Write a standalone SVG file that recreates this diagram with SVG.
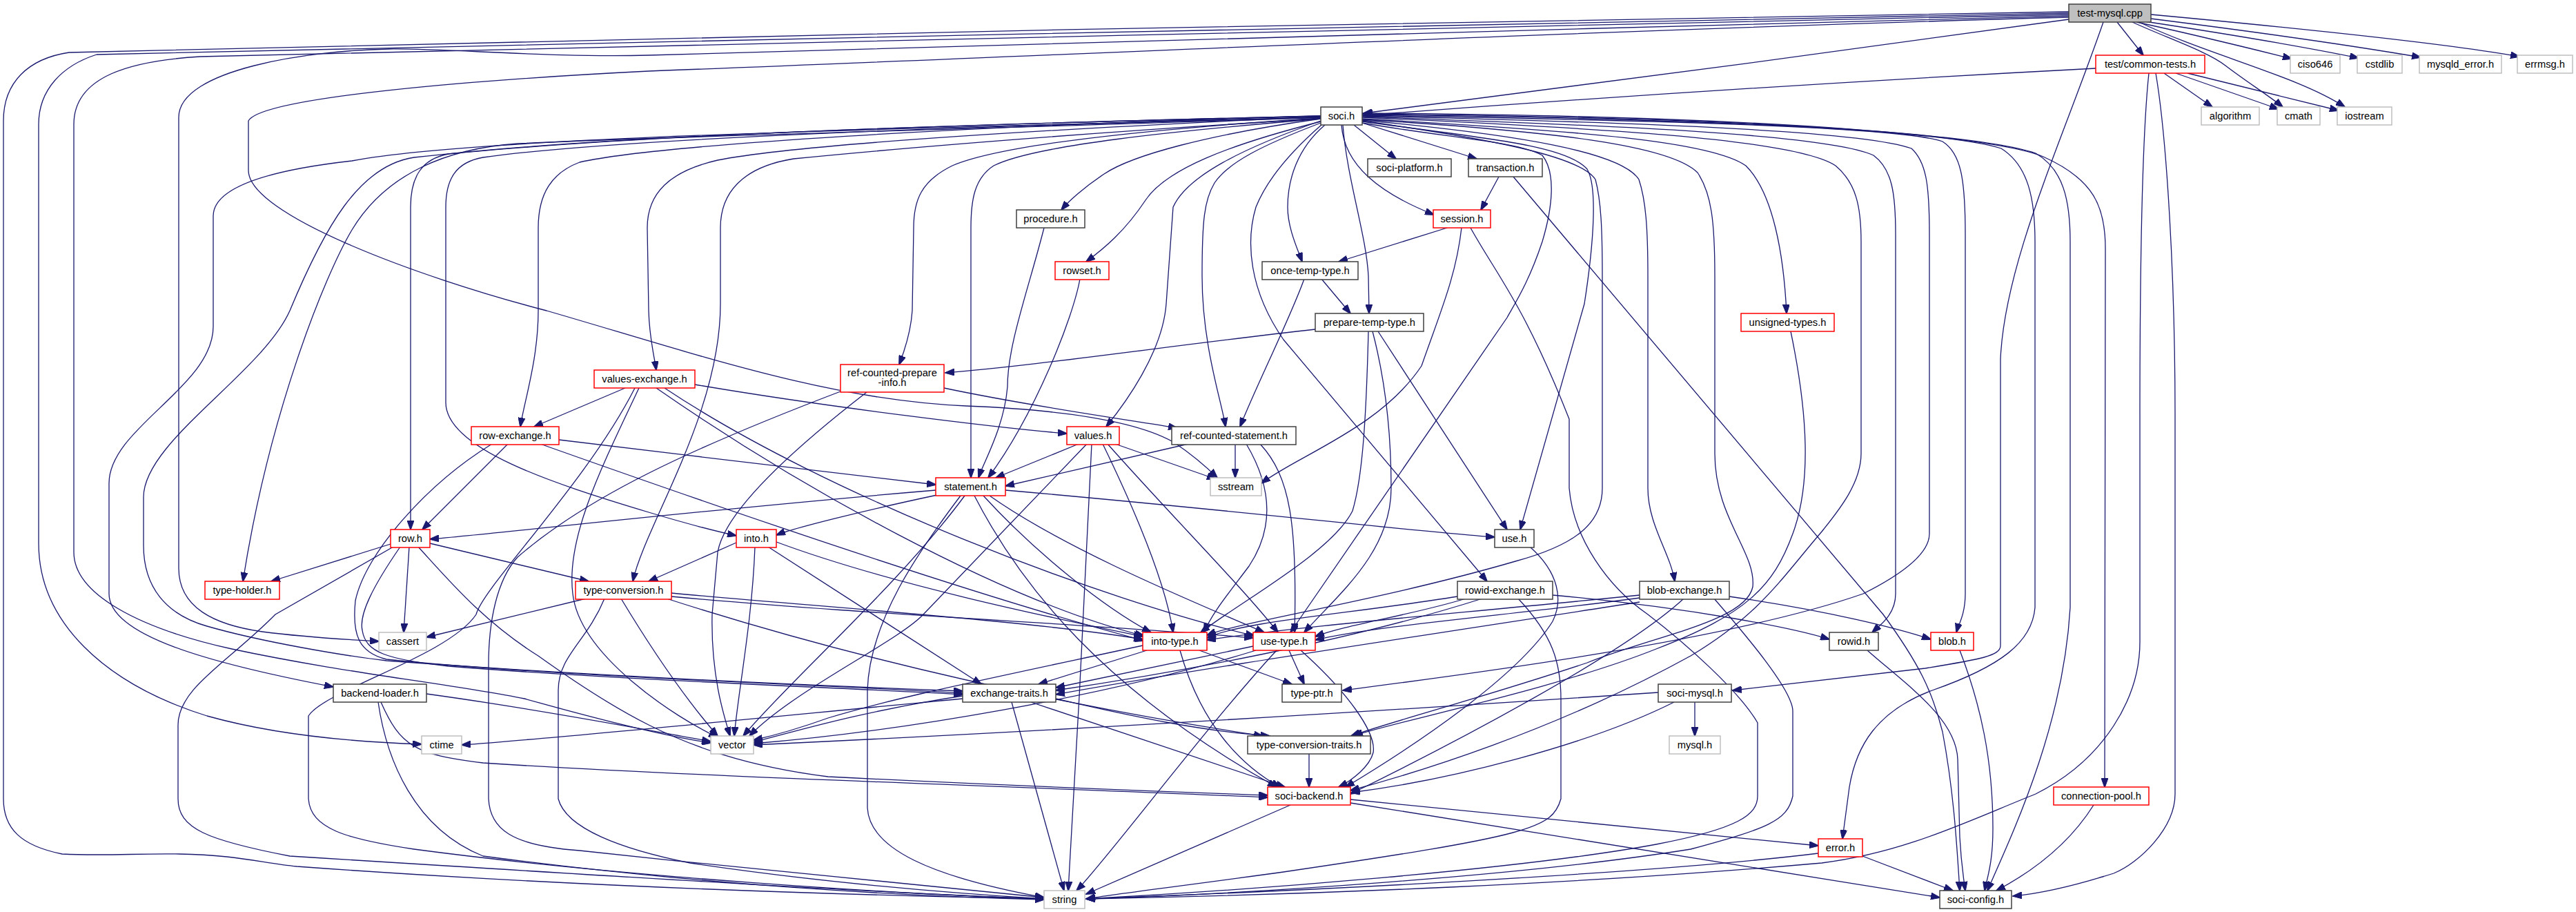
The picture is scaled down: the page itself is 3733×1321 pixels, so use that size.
<svg xmlns="http://www.w3.org/2000/svg" width="3733" height="1321" viewBox="0 0 3733 1321">
<defs>
<marker id="a" viewBox="0 0 14 10" refX="13" refY="5" markerWidth="14" markerHeight="10" markerUnits="userSpaceOnUse" orient="auto">
<path d="M0,0 L14,5 L0,10 z" fill="#191970" stroke="#191970" stroke-width="1"/>
</marker>
<style>
rect{stroke-width:1.5}
.k rect{fill:#fff;stroke:#404040}
.r rect{fill:#fff;stroke:#ff0000}
.g rect{fill:#fff;stroke:#bfbfbf}
.root rect{fill:#bfbfbf;stroke:#404040}
text{font-family:"Liberation Sans",Arial,Helvetica,sans-serif;font-size:14.7px;text-anchor:middle;fill:#000}
#edges path{fill:none;stroke:#191970;stroke-width:1.3;marker-end:url(#a)}
</style>
</defs>
<rect width="3733" height="1321" fill="#fff"/>
<g id="edges">
<path d="M2998,28 C2700,70 2250,130 1976,164"/>
<path d="M3068,32 L3106,80"/>
<path d="M3096,32 C3180,50 3260,70 3321,85"/>
<path d="M3108,31 C3220,48 3340,68 3418,84"/>
<path d="M3117,27 C3260,45 3420,68 3508,83"/>
<path d="M3117,21 C3300,38 3540,62 3651,82"/>
<path d="M3090,32 C3140,55 3200,75 3225,95 C3255,118 3290,140 3308,155"/>
<path d="M3100,32 C3200,80 3330,110 3398,155"/>
<path d="M2998,17 C2200,28 900,55 100,76 C40,85 5,120 5,175 L5,1157 C5,1200 30,1225 90,1237 C150,1240 200,1236 260,1237 C340,1238 380,1250 430,1255 C800,1282 1200,1296 1513,1302"/>
<path d="M2998,19 C2200,32 1000,60 140,79 C90,95 56,130 56,180 L56,787 C56,900 150,990 300,1037 C400,1065 520,1075 611,1078"/>
<path d="M2998,21 C2200,36 1100,65 290,82 C190,88 107,110 107,180 L107,800 C107,860 200,910 336,940 C500,975 650,990 760,1012 C860,1040 960,1066 1030,1076"/>
<path d="M2998,23 C2300,40 1400,68 940,80 C800,84 650,70 564,71 C450,73 259,100 259,170 L259,823 C259,880 310,905 380,915 C450,924 500,926 549,929"/>
<path d="M2998,25 C2300,44 1500,82 940,103 C700,115 380,140 360,175 L360,247 C360,310 600,400 792,450 C1000,510 1200,580 1400,588 C1550,594 1650,612 1700,640 C1730,660 1752,680 1764,692"/>
<path d="M3048,32 C2990,200 2905,380 2899,520 L2899,935 C2899,950 2870,955 2790,968 L2511,1000"/>
<path d="M3037,99 C2600,122 2200,150 1976,167"/>
<path d="M3136,106 L3206,155"/>
<path d="M3153,106 L3302,158"/>
<path d="M3170,106 L3389,160"/>
<path d="M3114,106 C3104,200 3101,400 3101,600 L3101,930 C3101,1010 3050,1100 2950,1150 C2850,1190 2760,1235 2640,1250 C2300,1280 1900,1296 1574,1302"/>
<path d="M3124,106 C3140,200 3152,400 3152,600 L3152,1150 C3152,1200 3100,1250 3063,1265 C3000,1285 2950,1295 2917,1298"/>
<path d="M1962,181 L2023,230"/>
<path d="M1974,178 L2140,230"/>
<path d="M1944,181 C1948,240 2000,280 2078,311"/>
<path d="M1920,181 C1880,215 1866,260 1866,300 C1866,330 1880,360 1887,379"/>
<path d="M1946,181 C1952,260 1980,340 1983,400 L1984,454"/>
<path d="M1914,172 C1750,195 1640,225 1600,252 C1570,272 1548,292 1538,304"/>
<path d="M1914,176 C1780,210 1690,245 1660,290 C1630,335 1600,360 1574,379"/>
<path d="M1914,169 C1500,188 1150,210 1040,232 C970,248 938,280 938,330 L940,450 C941,490 948,515 951,536"/>
<path d="M1914,171 C1650,188 1450,210 1380,240 C1335,262 1324,290 1324,330 L1322,450 C1320,480 1310,510 1303,528"/>
<path d="M1914,168 C1400,182 950,210 840,235 C800,250 780,280 780,330 L780,450 C780,520 760,580 754,618"/>
<path d="M1914,175 C1800,215 1720,255 1700,300 L1690,440 C1685,510 1630,585 1603,618"/>
<path d="M1914,178 C1830,210 1780,235 1760,265 C1745,290 1742,320 1742,400 C1742,500 1770,580 1776,618"/>
<path d="M1914,172 C1700,190 1500,210 1440,240 C1412,258 1407,290 1407,330 L1407,692"/>
<path d="M1914,168 C1400,180 900,196 650,223 C612,230 595,255 595,300 L595,767"/>
<path d="M1914,170 C1400,183 900,200 700,228 C660,235 646,260 646,300 L646,583 C646,650 800,700 940,742 C1000,760 1040,770 1067,776"/>
<path d="M1914,170 C1500,185 1000,196 750,208 C650,215 560,250 510,333 C470,400 390,600 352,842"/>
<path d="M1914,172 C1600,190 1300,215 1150,230 C1075,242 1044,280 1044,330 L1044,440 C1044,600 935,760 917,842"/>
<path d="M1914,170 C1400,185 700,196 510,233 C430,242 309,262 309,313 L309,473 C309,560 158,620 158,700 L158,860 C158,920 300,960 483,995"/>
<path d="M1914,168 C1400,180 900,195 600,228 C520,240 470,330 420,450 C380,540 208,640 208,720 L208,790 C208,850 240,890 300,907 C380,930 500,950 560,957 C800,975 1100,990 1395,1001"/>
<path d="M1916,180 C1870,220 1836,260 1820,300 C1805,350 1810,420 1860,492 L2155,842"/>
<path d="M1974,174 C2200,195 2350,220 2375,260 C2385,290 2388,330 2388,400 L2388,707 C2388,760 2420,800 2427,842"/>
<path d="M1974,178 C2100,200 2200,205 2235,225 C2255,250 2250,300 2235,350 C2215,410 2195,440 2184,460 L1870,916"/>
<path d="M1974,175 C2150,200 2290,225 2312,260 C2320,290 2322,330 2322,400 L2322,707 C2322,760 2280,790 2196,813 C2000,870 1800,900 1749,920"/>
<path d="M1974,176 C2150,200 2270,210 2300,245 C2315,270 2310,350 2296,440 L2203,767"/>
<path d="M1974,172 C2300,190 2480,205 2530,240 C2570,280 2585,370 2589,454"/>
<path d="M1974,173 C2250,190 2420,210 2460,250 C2480,280 2485,320 2485,400 L2485,657 C2485,750 2545,800 2540,850 C2530,900 2400,920 2300,960 C2150,1010 2000,1050 1958,1066"/>
<path d="M1974,170 C2300,185 2600,200 2660,240 C2690,265 2697,300 2697,350 L2697,657 C2697,700 2664,740 2640,770 C2580,840 2550,890 2450,950 C2250,1060 2050,1120 1957,1145"/>
<path d="M1974,169 C2350,182 2650,195 2715,225 C2742,245 2747,280 2747,340 L2747,860 C2747,890 2725,905 2713,916"/>
<path d="M1974,168 C2400,178 2700,190 2770,215 C2792,235 2796,270 2796,340 L2796,773 C2796,800 2760,830 2700,860 C2500,930 2100,980 1946,1000"/>
<path d="M1974,167 C2450,175 2760,185 2815,205 C2842,222 2848,260 2848,340 L2848,860 C2848,890 2838,905 2835,916"/>
<path d="M1974,166 C2500,172 2820,190 2900,215 C2940,240 2949,290 2949,350 L2949,880 C2945,930 2900,965 2800,1000 C2720,1030 2690,1080 2680,1140 L2670,1215"/>
<path d="M1974,165 C2550,170 2870,195 2950,222 C2990,245 3000,290 3000,350 L3000,880 C2990,1050 2920,1200 2880,1290"/>
<path d="M1974,164 C2600,168 2900,200 2961,227 C3035,260 3051,300 3051,360 L3050,1140"/>
<path d="M2172,256 L2146,304"/>
<path d="M2193,256 L2729,890 C2780,960 2800,1000 2815,1060 C2832,1150 2836,1230 2840,1290"/>
<path d="M2097,330 L1940,379"/>
<path d="M2118,330 C2110,400 2088,450 2060,530 C2000,620 1880,660 1828,700"/>
<path d="M2131,330 C2170,400 2208,440 2274,607 L2274,707 C2280,780 2330,850 2388,890 C2440,930 2520,1000 2547,1047 L2547,1153 C2547,1180 2520,1200 2400,1223 C2200,1260 1800,1290 1574,1302"/>
<path d="M1513,330 C1490,420 1460,500 1460,560 C1455,620 1425,670 1418,692"/>
<path d="M1565,404 C1555,460 1500,600 1432,692"/>
<path d="M1915,404 L1957,454"/>
<path d="M1890,404 C1870,460 1820,560 1797,618"/>
<path d="M1906,477 C1700,500 1500,530 1370,540"/>
<path d="M1983,480 C1980,600 1975,690 1960,740 C1930,800 1800,870 1740,916"/>
<path d="M1989,480 C2010,560 2016,640 2016,707 C2016,800 1940,860 1890,916"/>
<path d="M1997,480 L2184,767"/>
<path d="M2595,480 C2620,600 2625,700 2598,773 C2570,850 2530,890 2400,940 C2250,1000 2000,1050 1962,1066"/>
<path d="M906,562 L774,618"/>
<path d="M1007,557 C1200,590 1450,620 1546,628"/>
<path d="M951,562 C1150,700 1450,870 1658,921"/>
<path d="M963,562 C1200,720 1600,870 1818,921"/>
<path d="M926,562 C870,680 820,780 830,860 C840,950 980,1040 1040,1068"/>
<path d="M920,562 C850,700 700,850 690,890 C650,950 470,1000 447,1037 L447,1157 C450,1200 500,1215 600,1230 C900,1270 1300,1295 1513,1302"/>
<path d="M1368,562 C1500,590 1650,610 1706,620"/>
<path d="M1256,568 C1150,650 1050,740 1040,800 L1032,890 C1030,980 1050,1040 1058,1066"/>
<path d="M1218,567 C1000,650 850,720 750,807 C720,840 708,900 708,963 L708,1157 C710,1200 740,1225 840,1232 C1100,1260 1400,1290 1513,1300"/>
<path d="M736,643 L612,767"/>
<path d="M810,637 C1000,660 1250,690 1356,702"/>
<path d="M783,643 C1000,720 1400,860 1658,928"/>
<path d="M713,643 C620,700 530,800 515,870 C510,920 520,945 560,955 C800,980 1200,992 1395,1004"/>
<path d="M1563,643 L1443,692"/>
<path d="M1616,643 L1762,694"/>
<path d="M1575,643 L1338,890 C1300,930 1150,1000 1086,1066"/>
<path d="M1582,643 C1575,800 1560,1100 1548,1290"/>
<path d="M1598,643 C1650,750 1690,850 1700,916"/>
<path d="M1605,643 C1700,750 1800,850 1852,916"/>
<path d="M1722,643 L1457,704"/>
<path d="M1790,643 L1790,692"/>
<path d="M1806,643 C1840,700 1850,760 1810,820 C1780,860 1755,890 1745,916"/>
<path d="M1826,643 C1870,690 1880,760 1876,916"/>
<path d="M1356,710 C1000,740 750,770 623,781"/>
<path d="M1358,717 C1250,740 1150,765 1125,775"/>
<path d="M1457,710 C1800,740 2050,770 2166,778"/>
<path d="M1425,718 C1500,800 1600,880 1668,916"/>
<path d="M1434,718 C1550,800 1750,880 1832,916"/>
<path d="M1412,718 C1480,850 1600,1000 1850,1140"/>
<path d="M1398,718 C1300,850 1150,980 1077,1066"/>
<path d="M1392,718 C1330,800 1260,900 1257,1000 L1257,1170 C1260,1230 1350,1270 1513,1300"/>
<path d="M566,788 L393,842"/>
<path d="M623,787 L853,842"/>
<path d="M593,792 L585,916"/>
<path d="M570,792 L399,890 C330,960 258,997 258,1050 L258,1157 C258,1200 300,1217 420,1240 C900,1270 1300,1295 1513,1302"/>
<path d="M580,792 C540,850 520,890 525,913 C530,945 560,955 650,965 C900,985 1200,995 1395,1006"/>
<path d="M606,792 C650,840 700,900 780,950 C850,1000 900,1030 940,1050 C1000,1080 1080,1110 1200,1125 C1500,1140 1700,1147 1837,1152"/>
<path d="M1067,786 L940,842"/>
<path d="M1094,792 C1090,900 1070,1000 1064,1066"/>
<path d="M1113,792 L1422,991"/>
<path d="M1125,785 C1300,850 1550,900 1656,922"/>
<path d="M849,867 L618,923"/>
<path d="M973,859 C1200,880 1500,900 1656,926"/>
<path d="M973,864 C1250,890 1600,905 1816,924"/>
<path d="M966,867 C1100,910 1400,1000 1830,1066"/>
<path d="M900,867 C950,950 1000,1020 1040,1066"/>
<path d="M876,867 C850,930 809,950 809,1000 L809,1157 C820,1200 900,1230 1000,1250 C1200,1280 1400,1295 1513,1302"/>
<path d="M2217,792 C2260,830 2265,870 2250,900 C2200,980 2050,1080 1950,1140"/>
<path d="M2112,864 C1950,890 1800,900 1749,924"/>
<path d="M2124,867 C2050,890 1950,905 1906,922"/>
<path d="M2148,867 C1950,930 1700,975 1530,1000"/>
<path d="M2250,862 C2450,880 2600,910 2651,926"/>
<path d="M2200,867 C2250,920 2262,960 2262,1013 L2262,1157 C2250,1200 2220,1210 1860,1263 C1700,1285 1600,1297 1574,1302"/>
<path d="M2376,862 C2100,890 1900,905 1749,927"/>
<path d="M2376,866 C2200,890 2000,905 1906,927"/>
<path d="M2376,872 C2000,930 1700,975 1530,1006"/>
<path d="M2506,864 C2650,885 2750,910 2798,926"/>
<path d="M2440,867 C2350,950 2100,1080 1957,1150"/>
<path d="M2484,867 C2530,920 2598,1000 2598,1030 L2598,1153 C2590,1190 2560,1200 2450,1230 C2200,1270 1800,1295 1574,1302"/>
<path d="M1656,935 C1400,990 1300,1010 1200,1040 C1150,1058 1110,1068 1092,1072"/>
<path d="M1662,942 L1505,991"/>
<path d="M1710,942 C1740,1050 1800,1110 1855,1140"/>
<path d="M1738,942 L1872,991"/>
<path d="M1816,936 L1530,996"/>
<path d="M1820,942 C1600,1010 1300,1060 1092,1077"/>
<path d="M1850,942 C1750,1050 1600,1250 1560,1290"/>
<path d="M1868,942 L1890,991"/>
<path d="M1885,942 C1950,1000 1995,1060 1990,1090 C1985,1110 1960,1130 1940,1140"/>
<path d="M1395,1008 C1250,1030 1150,1060 1092,1075"/>
<path d="M1395,1012 C1100,1040 800,1070 669,1079"/>
<path d="M1466,1017 L1542,1290"/>
<path d="M1494,1017 L1862,1140"/>
<path d="M1530,1012 C1650,1040 1750,1060 1840,1066"/>
<path d="M1897,1091 L1897,1140"/>
<path d="M1870,1166 L1574,1295"/>
<path d="M1957,1158 L2635,1225"/>
<path d="M1957,1163 L2811,1300"/>
<path d="M2635,1236 C2400,1265 1900,1290 1574,1302"/>
<path d="M2699,1240 L2830,1290"/>
<path d="M2403,1003 C2000,1030 1500,1060 1092,1079"/>
<path d="M2426,1017 C2300,1080 2100,1130 1958,1148"/>
<path d="M2456,1017 L2456,1066"/>
<path d="M2706,942 C2760,990 2835,1040 2837,1100 L2840,1213 C2842,1250 2845,1270 2848,1290"/>
<path d="M2840,942 C2870,1020 2888,1100 2888,1200 C2888,1250 2880,1270 2876,1290"/>
<path d="M3034,1166 C3000,1220 2950,1260 2893,1290"/>
<path d="M618,1005 C800,1030 950,1060 1030,1074"/>
<path d="M552,1017 C580,1080 600,1093 700,1105 C1000,1125 1500,1140 1837,1155"/>
<path d="M548,1017 C560,1100 600,1200 700,1240 C1000,1280 1300,1298 1513,1303"/>
</g>
<g id="n_test_mysql_cpp" class="root"><rect x="2998" y="6" width="119" height="26"/><text x="3057.5" y="24">test-mysql.cpp</text></g>
<g id="n_common_tests_h" class="r"><rect x="3037" y="80" width="158" height="26"/><text x="3116" y="98">test/common-tests.h</text></g>
<g id="n_ciso646" class="g"><rect x="3319" y="80" width="72" height="26"/><text x="3355" y="98">ciso646</text></g>
<g id="n_cstdlib" class="g"><rect x="3416" y="80" width="65" height="26"/><text x="3448.5" y="98">cstdlib</text></g>
<g id="n_mysqld_error_h" class="g"><rect x="3506" y="80" width="119" height="26"/><text x="3565.5" y="98">mysqld_error.h</text></g>
<g id="n_errmsg_h" class="g"><rect x="3648" y="80" width="80" height="26"/><text x="3688" y="98">errmsg.h</text></g>
<g id="n_algorithm" class="g"><rect x="3190" y="155" width="84" height="26"/><text x="3232" y="173">algorithm</text></g>
<g id="n_cmath" class="g"><rect x="3300" y="155" width="62" height="26"/><text x="3331" y="173">cmath</text></g>
<g id="n_iostream" class="g"><rect x="3387" y="155" width="79" height="26"/><text x="3426.5" y="173">iostream</text></g>
<g id="n_soci_h" class="k"><rect x="1914" y="155" width="60" height="26"/><text x="1944" y="173">soci.h</text></g>
<g id="n_soci_platform_h" class="k"><rect x="1982" y="230" width="121" height="26"/><text x="2042.5" y="248">soci-platform.h</text></g>
<g id="n_transaction_h" class="k"><rect x="2128" y="230" width="107" height="26"/><text x="2181.5" y="248">transaction.h</text></g>
<g id="n_procedure_h" class="k"><rect x="1473" y="304" width="99" height="26"/><text x="1522.5" y="322">procedure.h</text></g>
<g id="n_session_h" class="r"><rect x="2077" y="304" width="83" height="26"/><text x="2118.5" y="322">session.h</text></g>
<g id="n_rowset_h" class="r"><rect x="1529" y="379" width="78" height="26"/><text x="1568" y="397">rowset.h</text></g>
<g id="n_once_temp_type_h" class="k"><rect x="1829" y="379" width="139" height="26"/><text x="1898.5" y="397">once-temp-type.h</text></g>
<g id="n_prepare_temp_type_h" class="k"><rect x="1906" y="454" width="157" height="26"/><text x="1984.5" y="472">prepare-temp-type.h</text></g>
<g id="n_unsigned_types_h" class="r"><rect x="2523" y="454" width="135" height="26"/><text x="2590.5" y="472">unsigned-types.h</text></g>
<g id="n_values_exchange_h" class="r"><rect x="861" y="536" width="146" height="26"/><text x="934" y="554">values-exchange.h</text></g>
<g id="n_ref_counted_prepare_info_h" class="r"><rect x="1218" y="528" width="150" height="40"/><text x="1293" y="545">ref-counted-prepare</text><text x="1293" y="559">-info.h</text></g>
<g id="n_row_exchange_h" class="r"><rect x="683" y="618" width="127" height="26"/><text x="746.5" y="636">row-exchange.h</text></g>
<g id="n_values_h" class="r"><rect x="1546" y="618" width="76" height="26"/><text x="1584" y="636">values.h</text></g>
<g id="n_ref_counted_statement_h" class="k"><rect x="1698" y="618" width="180" height="26"/><text x="1788" y="636">ref-counted-statement.h</text></g>
<g id="n_statement_h" class="r"><rect x="1356" y="692" width="101" height="26"/><text x="1406.5" y="710">statement.h</text></g>
<g id="n_sstream" class="g"><rect x="1754" y="692" width="74" height="26"/><text x="1791" y="710">sstream</text></g>
<g id="n_row_h" class="r"><rect x="566" y="767" width="57" height="26"/><text x="594.5" y="785">row.h</text></g>
<g id="n_into_h" class="r"><rect x="1067" y="767" width="58" height="26"/><text x="1096" y="785">into.h</text></g>
<g id="n_use_h" class="k"><rect x="2166" y="767" width="57" height="26"/><text x="2194.5" y="785">use.h</text></g>
<g id="n_type_holder_h" class="r"><rect x="297" y="842" width="108" height="26"/><text x="351" y="860">type-holder.h</text></g>
<g id="n_type_conversion_h" class="r"><rect x="834" y="842" width="139" height="26"/><text x="903.5" y="860">type-conversion.h</text></g>
<g id="n_rowid_exchange_h" class="k"><rect x="2112" y="842" width="138" height="26"/><text x="2181" y="860">rowid-exchange.h</text></g>
<g id="n_blob_exchange_h" class="k"><rect x="2376" y="842" width="130" height="26"/><text x="2441" y="860">blob-exchange.h</text></g>
<g id="n_cassert" class="g"><rect x="549" y="916" width="69" height="26"/><text x="583.5" y="934">cassert</text></g>
<g id="n_into_type_h" class="r"><rect x="1656" y="916" width="93" height="26"/><text x="1702.5" y="934">into-type.h</text></g>
<g id="n_use_type_h" class="r"><rect x="1816" y="916" width="90" height="26"/><text x="1861" y="934">use-type.h</text></g>
<g id="n_rowid_h" class="k"><rect x="2651" y="916" width="71" height="26"/><text x="2686.5" y="934">rowid.h</text></g>
<g id="n_blob_h" class="r"><rect x="2798" y="916" width="62" height="26"/><text x="2829" y="934">blob.h</text></g>
<g id="n_backend_loader_h" class="k"><rect x="483" y="991" width="135" height="26"/><text x="550.5" y="1009">backend-loader.h</text></g>
<g id="n_exchange_traits_h" class="k"><rect x="1395" y="991" width="135" height="26"/><text x="1462.5" y="1009">exchange-traits.h</text></g>
<g id="n_type_ptr_h" class="k"><rect x="1858" y="991" width="86" height="26"/><text x="1901" y="1009">type-ptr.h</text></g>
<g id="n_soci_mysql_h" class="k"><rect x="2403" y="991" width="106" height="26"/><text x="2456" y="1009">soci-mysql.h</text></g>
<g id="n_ctime" class="g"><rect x="611" y="1066" width="58" height="26"/><text x="640" y="1084">ctime</text></g>
<g id="n_vector" class="g"><rect x="1030" y="1066" width="62" height="26"/><text x="1061" y="1084">vector</text></g>
<g id="n_type_conversion_traits_h" class="k"><rect x="1808" y="1066" width="178" height="26"/><text x="1897" y="1084">type-conversion-traits.h</text></g>
<g id="n_mysql_h" class="g"><rect x="2419" y="1066" width="74" height="26"/><text x="2456" y="1084">mysql.h</text></g>
<g id="n_soci_backend_h" class="r"><rect x="1837" y="1140" width="120" height="26"/><text x="1897" y="1158">soci-backend.h</text></g>
<g id="n_connection_pool_h" class="r"><rect x="2976" y="1140" width="138" height="26"/><text x="3045" y="1158">connection-pool.h</text></g>
<g id="n_error_h" class="r"><rect x="2635" y="1215" width="64" height="26"/><text x="2667" y="1233">error.h</text></g>
<g id="n_string" class="g"><rect x="1513" y="1290" width="59" height="26"/><text x="1542.5" y="1308">string</text></g>
<g id="n_soci_config_h" class="k"><rect x="2811" y="1290" width="104" height="26"/><text x="2863" y="1308">soci-config.h</text></g>
</svg>
